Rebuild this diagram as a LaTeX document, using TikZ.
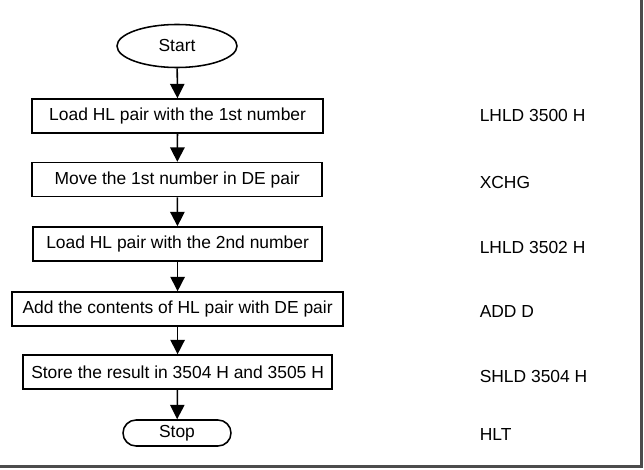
\documentclass[tikz,border=0pt]{standalone}
\usepackage{fontspec}
\setmainfont{Liberation Sans}
\usetikzlibrary{arrows.meta, positioning, shapes.geometric, shapes.misc}

\begin{document}
\begin{tikzpicture}[
    >={Triangle[length=0.36cm,width=0.36cm]},
    line width=1.1pt,
    font=\fontsize{12.4}{14}\selectfont,
    terminal/.style={draw, ellipse, minimum width=3cm, minimum height=1.075cm,
                     inner sep=0pt},
    stopbox/.style={draw, rounded rectangle, minimum width=2.7cm,
                    minimum height=0.65cm, inner sep=0pt},
    process/.style={draw, rectangle, minimum height=0.85cm, inner sep=0pt},
    instr/.style={anchor=west, inner sep=0pt},
    frame/.style={line width=1.6pt, black!70}
  ]
  \useasboundingbox (0,0) rectangle (16.1,-11.75);

  % Picture frame (right and bottom edge)
  \draw[frame] (16.04,0) -- (16.04,-11.66) -- (0,-11.66);

  % Flowchart
  \node[terminal] (start) at (4.425,-1.15) {Start};
  \node[process, minimum width=7.275cm] (load1) at (4.44,-2.9)
    {Load HL pair with the 1st number};
  \node[process, minimum width=7.25cm] (move) at (4.43,-4.49)
    {Move the 1st number in DE pair};
  \node[process, minimum width=7.225cm] (load2) at (4.44,-6.1)
    {Load HL pair with the 2nd number};
  \node[process, minimum width=8.275cm] (add) at (4.44,-7.725)
    {Add the contents of HL pair with DE pair};
  \node[process, minimum width=7.725cm] (store) at (4.44,-9.3)
    {Store the result in 3504 H and 3505 H};
  \node[stopbox] (stop) at (4.425,-10.825) {Stop};

  \draw[->] (start) -- (load1);
  \draw[->] (load1) -- (move);
  \draw[->] (move) -- (load2);
  \draw[->] (load2) -- (add);
  \draw[->] (add) -- (store);
  \draw[->] (store) -- (stop);

  % Instructions
  \node[instr] (lhld1) at (11.975,-2.875) {LHLD 3500 H};
  \node[instr] (xchg)  at (11.975,-4.55)  {XCHG};
  \node[instr] (lhld2) at (11.975,-6.175) {LHLD 3502 H};
  \node[instr] (addd)  at (11.975,-7.8)   {ADD D};
  \node[instr] (shld)  at (11.975,-9.4)   {SHLD 3504 H};
  \node[instr] (hlt)   at (11.975,-10.875) {HLT};

\end{tikzpicture}
\end{document}
